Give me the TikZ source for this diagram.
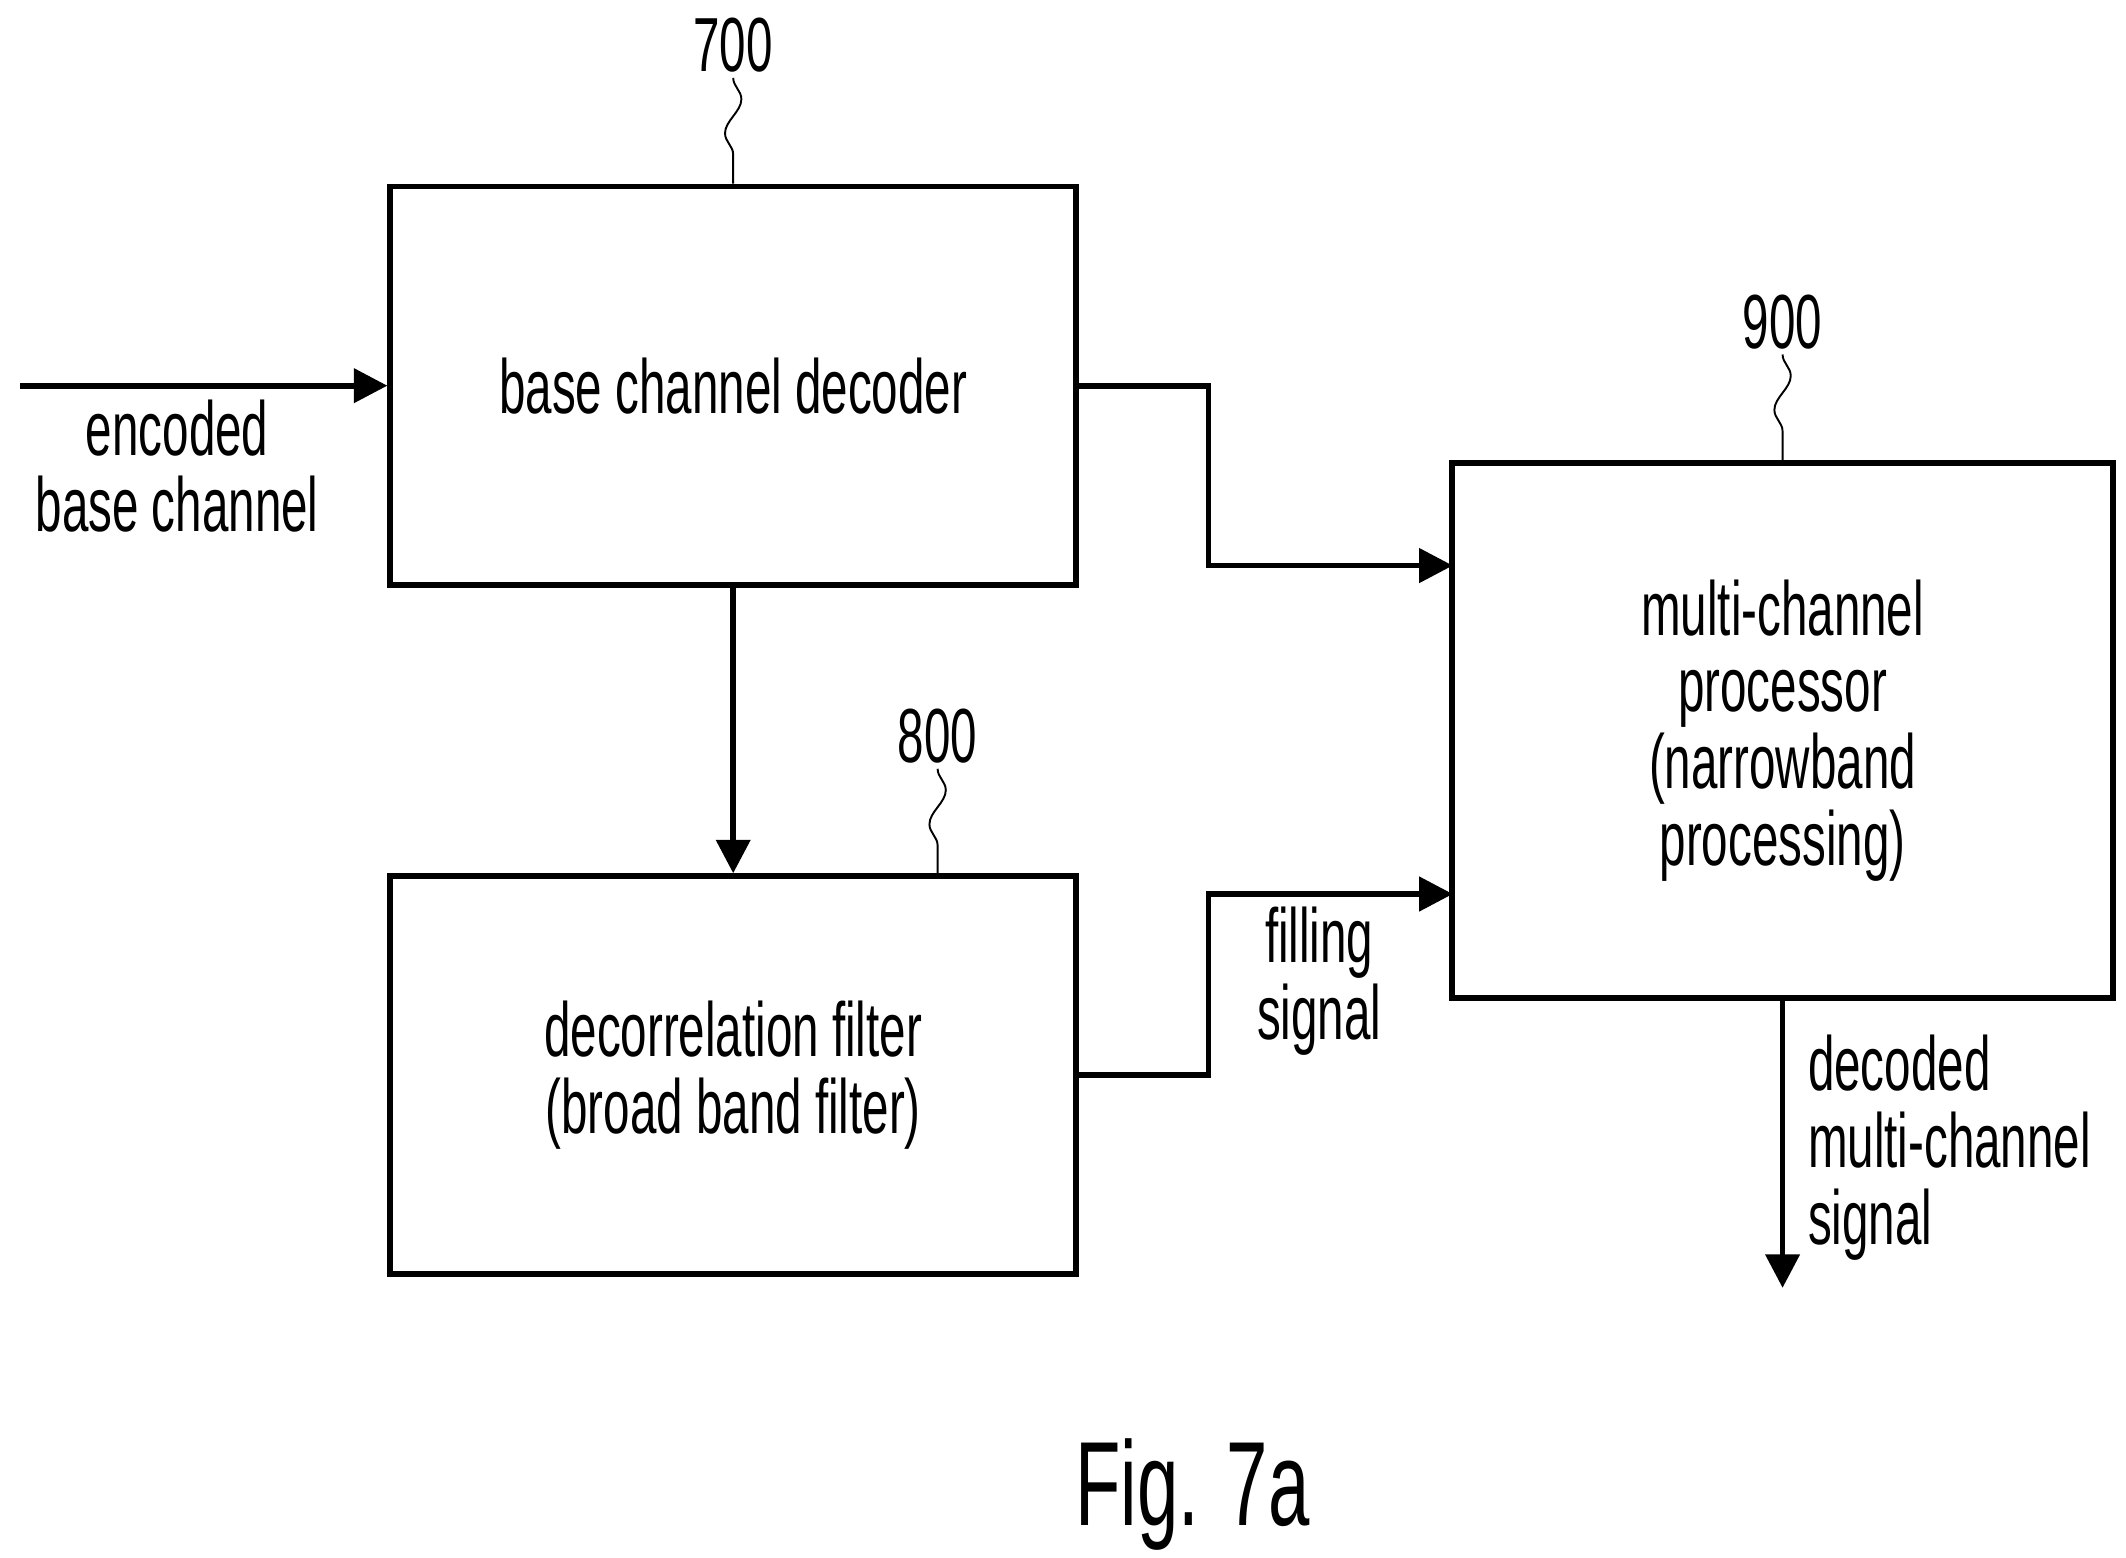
\documentclass[tikz,border=0pt]{standalone}
\usepackage{fontspec}
\setmainfont[FakeStretch=0.62]{Liberation Sans}
\usetikzlibrary{arrows.meta,decorations.pathmorphing}
\tikzset{
    block/.style={draw, line width=1.2pt, minimum width=5.03cm, minimum height=2.92cm, align=center},
    sig/.style={line width=1.2pt, -{Triangle[length=7pt,width=7pt]}},
    lbl/.style={align=center, inner sep=0pt},
    refnum/.style={inner sep=1pt},
    squig/.style={thin, decorate, decoration={snake, amplitude=0.6mm, segment length=5mm}}
}
\begin{document}
\begin{tikzpicture}[x=0.01cm,y=-0.01cm,font=\fontsize{16}{16}\selectfont]
    \useasboundingbox (0,0) rectangle (1560,1143);

    % blocks
    \node[block] (dec) at (538,283) {base channel decoder};
    \node[block] (filt) at (538,789) {decorrelation filter\\(broad band filter)};
    \node[block, minimum width=4.85cm, minimum height=3.92cm] (proc) at (1308,536)
        {multi-channel\\processor\\(narrowband\\processing)};

    % reference numbers
    \node[refnum] (n700) at (538,33) {700};
    \node[refnum] (n800) at (688,540) {800};
    \node[refnum] (n900) at (1308,236) {900};
    \draw[squig] (n700.south) -- (dec.north);
    \draw[squig] (n800.south) -- (filt.north -| n800.south);
    \draw[squig] (n900.south) -- (proc.north);

    % connectors
    \coordinate (in) at (15,283);
    \coordinate (out) at (1308,945);
    \coordinate (p1) at (1066,415);
    \coordinate (p2) at (1066,656);
    \draw[sig] (in) -- (dec.west);
    \draw[sig] (dec.east) -- ++(95,0) |- (p1);
    \draw[sig] (filt.east) -- ++(95,0) |- (p2);
    \draw[sig] (dec.south) -- (filt.north);
    \draw[sig] (proc.south) -- (out);

    % signal labels
    \node[lbl] (lin) at (130,342) {encoded\\base channel};
    \node[lbl] (lfill) at (968,720) {filling\\signal};
    \node[lbl, align=left, anchor=west] (lout) at (1326,842) {decoded\\multi-channel\\signal};

    \node[font=\fontsize{25}{28}\selectfont] (fig) at (875,1097) {Fig. 7a};
\end{tikzpicture}
\end{document}
